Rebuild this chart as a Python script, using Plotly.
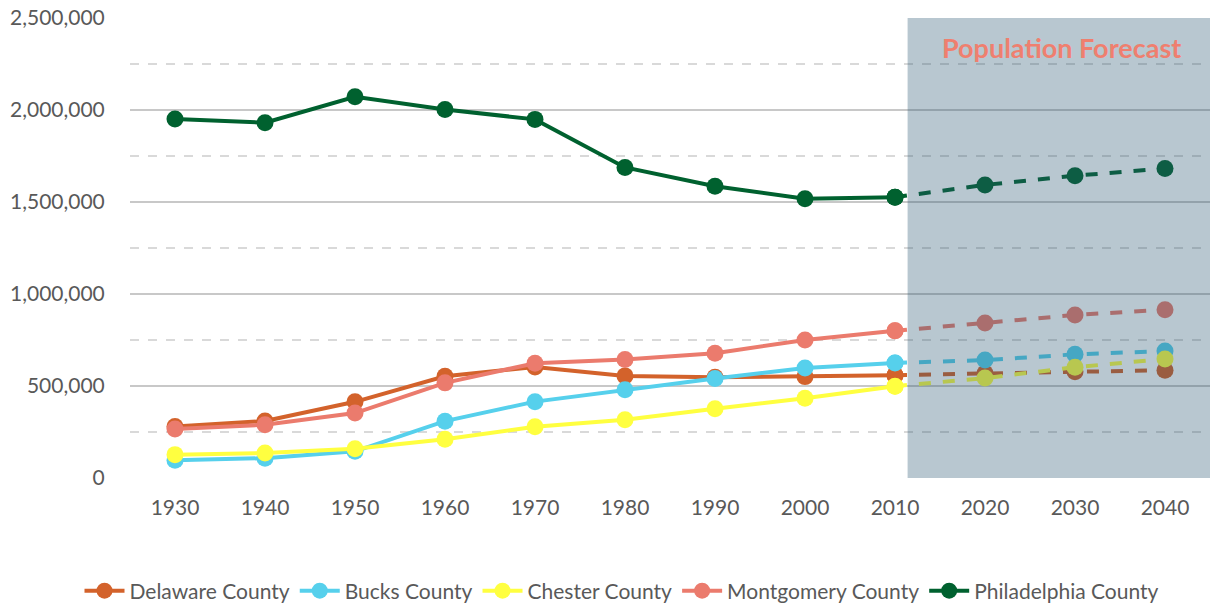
import plotly.graph_objects as go

years = ["1930", "1940", "1950", "1960", "1970", "1980", "1990", "2000", "2010", "2020", "2030", "2040"]
hist_n = 9  # 1930..2010 observed; 2010..2040 forecast

delaware = [280000, 310000, 414000, 553000, 603000, 555000, 547000, 551000, 559000, 569000, 578000, 586000]
bucks = [97000, 108000, 145000, 309000, 415000, 479000, 541000, 598000, 625000, 641000, 672000, 690000]
chester = [127000, 136000, 159000, 211000, 278000, 317000, 376000, 434000, 499000, 543000, 602000, 647000]
montgomery = [266000, 289000, 353000, 517000, 624000, 644000, 678000, 750000, 800000, 842000, 886000, 915000]
philadelphia = [1951000, 1931000, 2072000, 2003000, 1949000, 1688000, 1586000, 1518000, 1526000, 1593000, 1643000, 1682000]

series = [
    ("Delaware County", delaware, "#d3622b"),
    ("Bucks County", bucks, "#56d0ec"),
    ("Chester County", chester, "#ffff40"),
    ("Montgomery County", montgomery, "#eb7b6d"),
    ("Philadelphia County", philadelphia, "#00612f"),
]

fig = go.Figure()
for name, vals, col in series:
    fig.add_trace(go.Scatter(
        x=years[:hist_n], y=vals[:hist_n], name=name, mode="lines+markers",
        line=dict(color=col, width=4), marker=dict(color=col, size=17),
    ))
for name, vals, col in series:
    fig.add_trace(go.Scatter(
        x=years[hist_n - 1:], y=vals[hist_n - 1:], name=name + " forecast", mode="lines+markers",
        line=dict(color=col, width=4, dash="dash"), marker=dict(color=col, size=17),
        showlegend=False,
    ))

fig.add_shape(type="rect", xref="x", yref="paper", x0=8.14, x1=11.6, y0=0, y1=1,
              fillcolor="rgb(39,85,112)", opacity=0.33, line=dict(width=0), layer="above")

fig.add_annotation(text="<b>Population Forecast</b>", xref="paper", yref="paper",
                   x=(1061 - 130) / 1080, y=(478 - 48) / 460, xanchor="center", yanchor="middle",
                   showarrow=False,
                   font=dict(family="Lato", size=27, color="#ef7f6f"))

fig.update_layout(
    width=1210, height=606,
    margin=dict(l=130, r=0, t=18, b=128, autoexpand=False),
    plot_bgcolor="white", paper_bgcolor="white",
    font=dict(family="Lato", color="#595959"),
    showlegend=True,
    legend=dict(orientation="h", x=622 / 1210, xanchor="center", xref="container",
                y=(606 - 591) / 606, yanchor="middle", yref="container",
                font=dict(size=21, color="#595959"), itemwidth=40, tracegroupgap=0),
    xaxis=dict(type="category", categoryorder="array", categoryarray=years,
               range=[-0.5, 11.5], showgrid=False, zeroline=False, showline=False,
               ticks="outside", ticklen=11, tickcolor="rgba(0,0,0,0)",
               tickfont=dict(size=21, color="#595959")),
    yaxis=dict(range=[0, 2500000], dtick=500000, tickformat=",d", showgrid=True,
               gridcolor="#c8c8c8", gridwidth=1.5, zeroline=False, showline=False,
               ticks="outside", ticklen=20, tickcolor="rgba(0,0,0,0)",
               tickfont=dict(size=21, color="#595959"),
               minor=dict(dtick=250000, showgrid=True, gridcolor="#d9d9d9", griddash="dash",
                          gridwidth=1.5)),
)

fig.write_html("out.html", config={"displayModeBar": False},
               post_script="document.body.style.margin='0px';")
